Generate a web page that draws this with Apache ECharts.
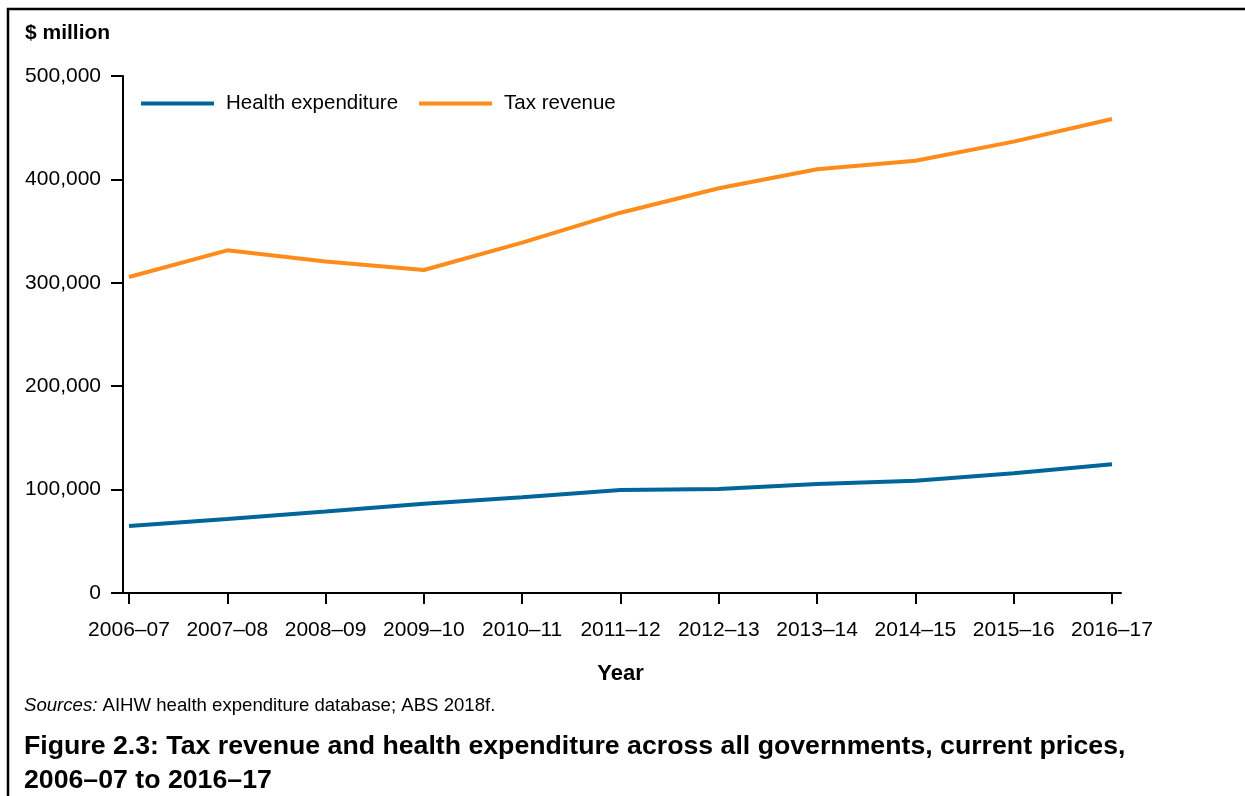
<!DOCTYPE html>
<html>
<head>
<meta charset="utf-8">
<script src="https://cdn.jsdelivr.net/npm/echarts@6/dist/echarts.min.js"></script>
<style>
html,body{margin:0;padding:0;background:#fff;}
#chart{width:1245px;height:796px;}
</style>
</head>
<body>
<div id="chart"></div>
<script>
const categories = ['2006–07','2007–08','2008–09','2009–10','2010–11','2011–12','2012–13','2013–14','2014–15','2015–16','2016–17'];
const healthExpenditure = [64800, 71600, 78800, 86400, 92500, 99600, 100600, 105400, 108600, 115700, 124500];
const taxRevenue = [305600, 331400, 320500, 312400, 338800, 367800, 391400, 409800, 418100, 436500, 458400];
const yTicks = [0, 100000, 200000, 300000, 400000, 500000];

const FONT = '"Liberation Sans", Arial, sans-serif';
const chart = echarts.init(document.getElementById('chart'), null, {renderer:'canvas'});

const option = {
  animation: false,
  backgroundColor: '#fff',
  grid: [
    {left:129, right:133, top:76, bottom:203},
    {left:123, right:124, top:76, bottom:203}
  ],
  legend: {
    left: 141, top: 93, padding: 0,
    icon: 'rect', itemWidth: 73, itemHeight: 4, itemGap: 21,
    textStyle: {fontFamily: FONT, fontSize: 20.5, color: '#000', padding:[0,0,0,7]},
    data: ['Health expenditure','Tax revenue']
  },
  xAxis: [
    {
      type: 'category', gridIndex: 0, data: categories, boundaryGap: false,
      axisLine: {show: false},
      axisTick: {show: true, length: 11, lineStyle: {color:'#000', width: 2}, alignWithLabel: true},
      axisLabel: {fontFamily: FONT, fontSize: 21, color:'#000', margin: 27, interval: 0},
      splitLine: {show:false},
      name: 'Year', nameLocation: 'middle', nameGap: 70,
      nameTextStyle: {fontFamily: FONT, fontSize: 22, fontWeight: 'bold', color:'#000'}
    },
    {
      type: 'value', gridIndex: 1, min: 0, max: 1,
      axisLine: {show: true, lineStyle: {color:'#000', width: 2}},
      axisTick: {show:false}, axisLabel: {show:false}, splitLine: {show:false}
    }
  ],
  yAxis: [
    {
      type: 'value', gridIndex: 0, min: yTicks[0], max: yTicks[yTicks.length-1], interval: 100000,
      offset: 6,
      axisLine: {show: true, lineStyle: {color:'#000', width: 2}},
      axisTick: {show: true, length: 12, lineStyle: {color:'#000', width: 2}},
      axisLabel: {fontFamily: FONT, fontSize: 21, color:'#000', margin: 22, lineHeight: 21, padding:[8,0,0,0],
        formatter: v => v.toLocaleString('en-US')},
      splitLine: {show:false}
    },
    {type:'value', gridIndex: 1, show: false, min:0, max:1}
  ],
  series: [
    {
      name: 'Health expenditure', type: 'line', xAxisIndex: 0, yAxisIndex: 0,
      data: healthExpenditure, symbol: 'none',
      lineStyle: {color: '#00669A', width: 4}, itemStyle: {color: '#00669A'}
    },
    {
      name: 'Tax revenue', type: 'line', xAxisIndex: 0, yAxisIndex: 0,
      data: taxRevenue, symbol: 'none',
      lineStyle: {color: '#FF8C1A', width: 4}, itemStyle: {color: '#FF8C1A'}
    }
  ],
  graphic: [
    {type:'rect', shape:{x:8, y:9, width:1400, height:1000}, style:{fill:null, stroke:'#000', lineWidth:2.5}, silent:true},
    {type:'text', left:25, top:23, style:{text:'$ million', font:'bold 21px ' + FONT, fill:'#000'}},
    {type:'text', left:24, top:696, style:{
      text:'{i|Sources:} AIHW health expenditure database; ABS 2018f.',
      rich:{i:{fontStyle:'italic', fontFamily: FONT, fontSize:18.6, fill:'#000'}},
      fontFamily: FONT, fontSize:18.6, fill:'#000'}},
    {type:'text', left:24, top:733, style:{text:'Figure 2.3: Tax revenue and health expenditure across all governments, current prices,', font:'bold 26.7px ' + FONT, fill:'#000'}},
    {type:'text', left:24, top:767, style:{text:'2006–07 to 2016–17', font:'bold 26.7px ' + FONT, fill:'#000'}}
  ]
};
chart.setOption(option);
</script>
</body>
</html>
